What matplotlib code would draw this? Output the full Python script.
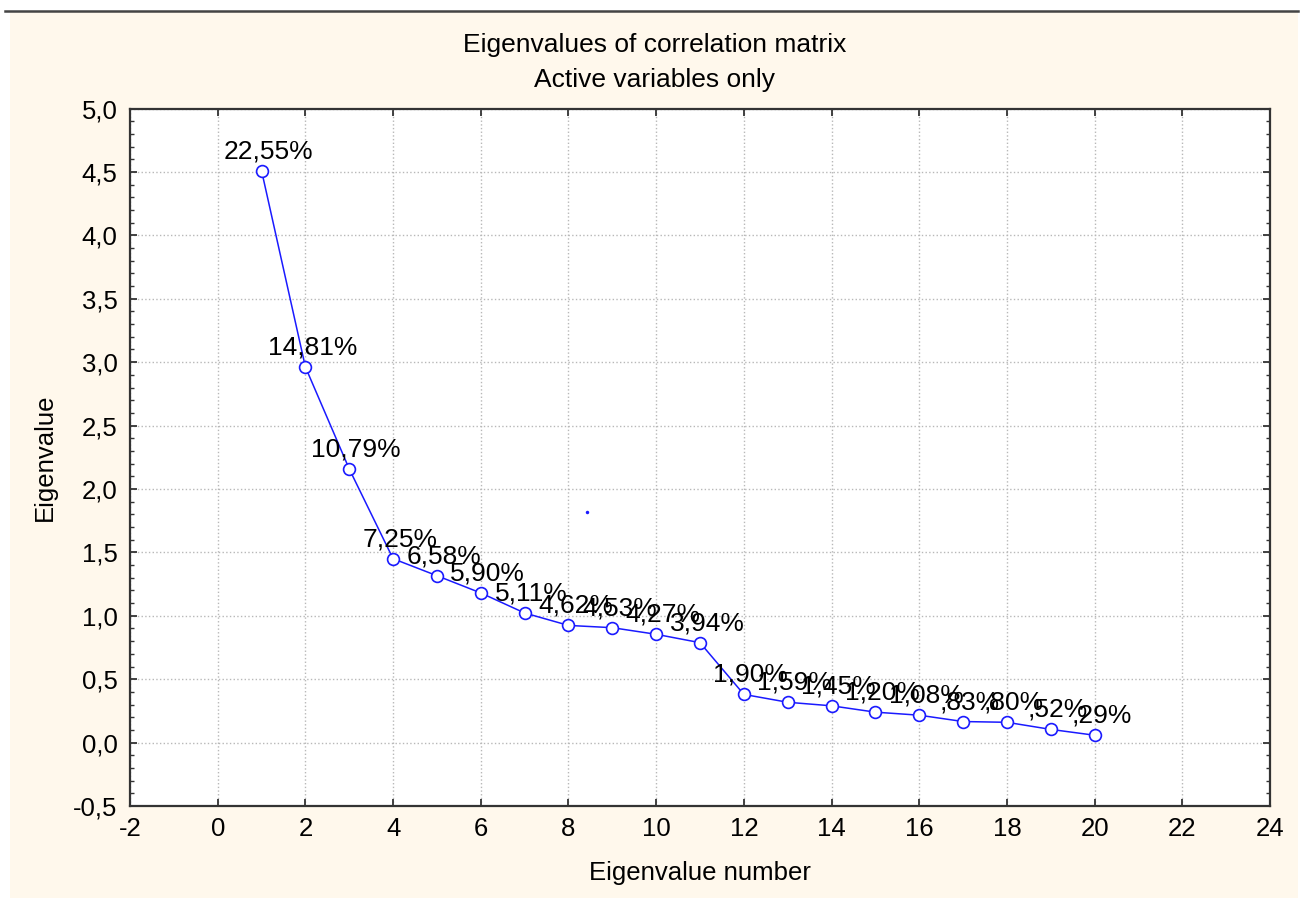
import numpy as np
import matplotlib
matplotlib.use('Agg')
import matplotlib.pyplot as plt
from matplotlib.patches import Rectangle
from matplotlib.lines import Line2D
from matplotlib.ticker import FuncFormatter, MultipleLocator

plt.rcParams['font.family'] = ['Liberation Sans', 'DejaVu Sans']
plt.rcParams['axes.unicode_minus'] = False

# data
eig_number = np.arange(1, 21)
eigenvalues = [4.51, 2.962, 2.158, 1.45, 1.316, 1.18, 1.022, 0.924, 0.906, 0.854,
               0.788, 0.38, 0.318, 0.29, 0.24, 0.216, 0.166, 0.16, 0.104, 0.058]
pct_variance = [22.55, 14.81, 10.79, 7.25, 6.58, 5.90, 5.11, 4.62, 4.53, 4.27,
                3.94, 1.90, 1.59, 1.45, 1.20, 1.08, 0.83, 0.80, 0.52, 0.29]
stray_x = [8.42]
stray_y = [1.816]

title_lines = ['Eigenvalues of correlation matrix', 'Active variables only']
x_label = 'Eigenvalue number'
y_label = 'Eigenvalue'

cream = '#fff8ec'
blue = '#1a1aff'

fig = plt.figure(figsize=(13.04, 8.98), dpi=100, facecolor='white')

# cream panel + dark top rule (the screenshot frame), kept behind the axes
fig.patches.append(Rectangle((10 / 1304, 0), 1288 / 1304, 886 / 898,
                             transform=fig.transFigure, facecolor=cream,
                             edgecolor='none', zorder=-10))
fig.lines.append(Line2D([5 / 1304, 1298 / 1304], [887 / 898, 887 / 898],
                        transform=fig.transFigure, color='#444444',
                        linewidth=1.8, zorder=-5))

ax = fig.add_axes([130 / 1304, 92 / 898, 1140 / 1304, 697.5 / 898])
ax.set_facecolor('white')

ax.plot(eig_number, eigenvalues, color=blue, linewidth=1.1, marker='o',
        markersize=8.5, markerfacecolor='white', markeredgecolor=blue,
        markeredgewidth=1.2, zorder=3)
ax.plot(stray_x, stray_y, linestyle='none', marker='o', markersize=2.5,
        color=blue, markeredgewidth=0, zorder=3)

for x, y, p in zip(eig_number, eigenvalues, pct_variance):
    s = f'{p:.2f}'.replace('.', ',')
    if s.startswith('0'):
        s = s[1:]
    ax.annotate(s + '%', (x, y), xytext=(5, 9), textcoords='offset points',
                ha='center', va='baseline', fontsize=19, color='black', zorder=4)

ax.set_xlim(-2, 24)
ax.set_ylim(-0.5, 5.0)
ax.xaxis.set_major_locator(MultipleLocator(2))
ax.yaxis.set_major_locator(MultipleLocator(0.5))
ax.yaxis.set_minor_locator(MultipleLocator(0.1))
ax.yaxis.set_major_formatter(FuncFormatter(lambda v, _: f'{v:.1f}'.replace('.', ',')))

ax.tick_params(axis='both', which='major', direction='in', length=5, width=1.3,
               color='#333333', labelsize=18.5, top=True, right=True)
ax.tick_params(axis='y', which='minor', direction='in', length=3, width=1.0,
               color='#333333', right=True)
ax.tick_params(axis='x', which='major', pad=8)
ax.tick_params(axis='y', which='major', pad=9)

for sp in ax.spines.values():
    sp.set_color('#333333')
    sp.set_linewidth(1.6)

ax.grid(True, which='major', color='#b8b8b8', linestyle=':', linewidth=1.0)
ax.set_axisbelow(True)

ax.set_xlabel(x_label, fontsize=18.5, labelpad=14)
ax.set_ylabel(y_label, fontsize=18.5, labelpad=12)

fig.text(0.502, 1 - 45 / 898, title_lines[0], ha='center', va='center', fontsize=19)
fig.text(0.502, 1 - 80 / 898, title_lines[1], ha='center', va='center', fontsize=19)

plt.savefig('out.png', dpi=100, facecolor=fig.get_facecolor())
plt.close()
